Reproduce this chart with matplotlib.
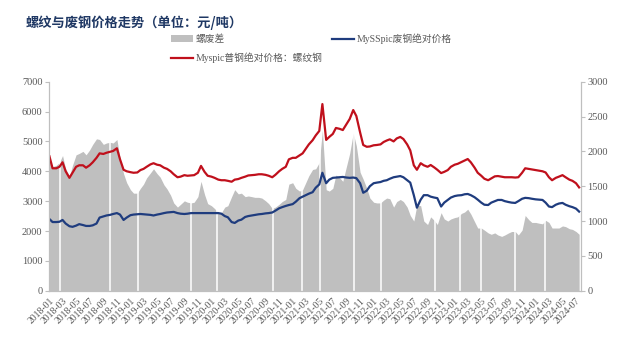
import matplotlib
matplotlib.use('Agg')
import matplotlib.pyplot as plt
import matplotlib.dates as mdates
from matplotlib.patches import Patch
import pandas as pd

plt.rcParams['font.family'] = ['Liberation Serif', 'Noto Sans CJK SC']

# values, twice a month, 2018-01-01 .. 2024-07-15
dates = pd.date_range('2018-01-01', periods=158, freq='SMS')

# Myspic rebar price (left axis)
rebar = [4500, 4100, 4100, 4150, 4300, 4000, 3780, 3950, 4150, 4200, 4200, 4120,
         4200, 4300, 4450, 4600, 4580, 4620, 4650, 4680, 4770, 4400, 4050, 4000,
         3970, 3950, 3960, 4040, 4080, 4150, 4230, 4270, 4220, 4200, 4120, 4080,
         4000, 3900, 3800, 3820, 3870, 3850, 3860, 3870, 3950, 4180, 3980, 3850,
         3820, 3780, 3720, 3700, 3700, 3680, 3650, 3720, 3740, 3780, 3820, 3860,
         3870, 3880, 3900, 3900, 3880, 3850, 3800, 3880, 4000, 4080, 4150, 4400,
         4450, 4450, 4530, 4600, 4750, 4900, 5040, 5200, 5350, 6250, 5050, 5150,
         5250, 5450, 5420, 5380, 5580, 5750, 6050, 5850, 5300, 4880, 4820, 4830,
         4870, 4880, 4900, 4980, 5030, 5070, 5000, 5100, 5150, 5080, 4900, 4700,
         4200, 4050, 4270, 4200, 4150, 4210, 4130, 4050, 3940, 3980, 4040, 4150,
         4220, 4250, 4310, 4360, 4410, 4300, 4120, 3950, 3850, 3750, 3700, 3760,
         3830, 3840, 3820, 3800, 3800, 3800, 3790, 3800, 3950, 4100, 4080, 4060,
         4040, 4020, 4000, 3960, 3800, 3700, 3780, 3820, 3870, 3800, 3720, 3680,
         3600, 3460]

# MySSpic scrap price (left axis)
scrap = [2400, 2300, 2300, 2310, 2370, 2250, 2160, 2140, 2180, 2230, 2200, 2170,
         2170, 2190, 2250, 2450, 2490, 2520, 2540, 2570, 2600, 2550, 2370, 2450,
         2530, 2550, 2560, 2570, 2560, 2550, 2540, 2520, 2550, 2570, 2600, 2620,
         2630, 2640, 2600, 2580, 2570, 2580, 2600, 2600, 2600, 2600, 2600, 2600,
         2600, 2600, 2600, 2580, 2500, 2460, 2300, 2270, 2350, 2380, 2470, 2500,
         2520, 2540, 2560, 2570, 2590, 2600, 2620, 2680, 2760, 2800, 2840, 2870,
         2900, 2980, 3100, 3150, 3200, 3250, 3300, 3450, 3560, 3950, 3600, 3720,
         3780, 3790, 3800, 3810, 3790, 3780, 3790, 3770, 3600, 3280, 3350, 3500,
         3600, 3620, 3640, 3680, 3700, 3750, 3800, 3820, 3840, 3800, 3700, 3620,
         3200, 2780, 3050, 3200, 3200, 3150, 3120, 3100, 2820, 2950, 3040, 3120,
         3170, 3190, 3200, 3230, 3240, 3200, 3130, 3050, 2950, 2880, 2870, 2950,
         3000, 3040, 3040, 3000, 2970, 2950, 2940, 3000, 3080, 3110, 3100, 3080,
         3060, 3050, 3040, 2950, 2820, 2800, 2880, 2920, 2940, 2880, 2830, 2800,
         2750, 2650]

# rebar - scrap spread (right axis)
spread = [1900, 1780, 1800, 1840, 1940, 1750, 1640, 1800, 1950, 1970, 2000, 1950,
          2020, 2100, 2180, 2170, 2100, 2120, 2130, 2120, 2170, 1900, 1680, 1550,
          1450, 1400, 1400, 1470, 1530, 1620, 1690, 1750, 1680, 1630, 1520, 1460,
          1370, 1260, 1200, 1240, 1290, 1270, 1260, 1270, 1350, 1570, 1380, 1250,
          1220, 1180, 1120, 1120, 1200, 1220, 1350, 1450, 1390, 1400, 1350, 1360,
          1350, 1340, 1340, 1330, 1290, 1250, 1180, 1200, 1240, 1280, 1310, 1530,
          1550, 1470, 1430, 1450, 1550, 1650, 1740, 1750, 1840, 2300, 1450, 1430,
          1470, 1660, 1620, 1570, 1790, 1970, 2260, 2080, 1700, 1600, 1470, 1330,
          1270, 1260, 1260, 1300, 1330, 1320, 1200, 1280, 1310, 1280, 1200, 1080,
          1000, 1230, 1220, 1000, 950, 1060, 1010, 950, 1120, 1030, 1000, 1030,
          1050, 1060, 1110, 1130, 1170, 1100, 990, 900, 900, 870, 830, 810,
          830, 800, 780, 800, 830, 850, 850, 800, 870, 1080, 1020, 980,
          980, 970, 960, 1010, 980, 900, 900, 900, 930, 920, 890, 880,
          850, 810]

# holidays with no spread data (white gaps in the grey area)
holidays = ['2018-02-16', '2018-10-03', '2019-02-05', '2019-10-03', '2020-01-27',
            '2020-10-03', '2021-02-13', '2021-05-02', '2021-10-03', '2022-02-02',
            '2022-10-03', '2023-01-24', '2023-05-01', '2023-10-02', '2024-02-12']

tick_dates = pd.date_range('2018-01-01', '2024-07-01', freq='2MS')

grey_txt = '#595959'
axis_col = '#BFBFBF'

fig = plt.figure(figsize=(6.26, 3.52), dpi=100)
ax = fig.add_axes([0.079, 0.174, 0.8486, 0.594])
ax2 = ax.twinx()

ax2.fill_between(dates, spread, color='#BFBFBF', lw=0)
for d in holidays:
    ax2.axvline(pd.Timestamp(d), color='white', lw=1.1)

l_red, = ax.plot(dates, rebar, color='#C0101C', lw=1.6)
l_blue, = ax.plot(dates, scrap, color='#1F3C7E', lw=1.6)

ax.set_zorder(ax2.get_zorder() + 1)
ax.patch.set_visible(False)

ax.set_ylim(0, 7000)
ax2.set_ylim(0, 3000)
ax.set_yticks(range(0, 7001, 1000))
ax2.set_yticks(range(0, 3001, 500))
ax.set_xlim(pd.Timestamp('2018-01-01'), pd.Timestamp('2024-07-22'))

ax.set_xticks(tick_dates)
ax.xaxis.set_major_formatter(mdates.DateFormatter('%Y-%m'))
for lab in ax.get_xticklabels():
    lab.set_rotation(45)
    lab.set_ha('right')
    lab.set_rotation_mode('anchor')

for a in (ax, ax2):
    a.spines['top'].set_visible(False)
    for s in ('left', 'right', 'bottom'):
        a.spines[s].set_color(axis_col)
        a.spines[s].set_linewidth(0.8)
    a.tick_params(axis='y', colors=grey_txt, labelsize=7.5, length=3,
                  width=0.8, color=axis_col, pad=2)
ax.tick_params(axis='x', colors=grey_txt, labelsize=7, length=0, pad=4)

fig.text(0.041, 0.935, '螺纹与废钢价格走势（单位：元/吨）', family='Noto Sans CJK SC',
         fontsize=9.5, fontweight='bold', color='#1F3864', va='center')

h_grey = Patch(facecolor='#BFBFBF', edgecolor='none')
fig.legend([h_grey, l_red, l_blue],
           ['螺废差', 'Myspic普钢绝对价格：螺纹钢', 'MySSpic废钢绝对价格'],
           loc='upper left', bbox_to_anchor=(0.265, 0.918), ncol=2, frameon=False,
           fontsize=7, labelcolor=grey_txt, handlelength=2.3, handletextpad=0.3,
           columnspacing=0.9, labelspacing=0.85, borderpad=0)

fig.savefig('out.png', dpi=100)
